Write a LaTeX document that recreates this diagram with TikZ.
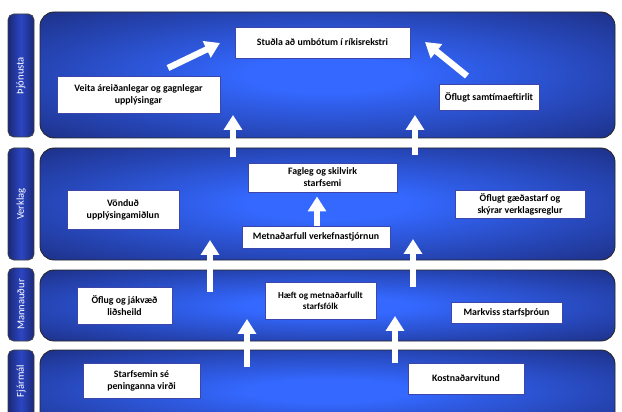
\documentclass[tikz,border=0pt]{standalone}
\usepackage{fontspec}
\setmainfont{Carlito}
\usetikzlibrary{arrows.meta,shadings}

\definecolor{navydark}{RGB}{26,40,118}
\definecolor{glowblue}{RGB}{52,104,255}
\definecolor{barmid}{RGB}{44,70,195}
\definecolor{boxline}{RGB}{60,70,170}

\pgfdeclareradialshading{panelglow}{\pgfpoint{0bp}{0bp}}{color(0bp)=(glowblue); color(7bp)=(glowblue); color(40bp)=(navydark); color(50bp)=(navydark)}

\begin{document}
\begin{tikzpicture}[
    x=0.025cm, y=-0.025cm,
    panel/.style={draw=black!85, line width=0.6pt, rounded corners=10pt, shading=panelglow},
    sidebar/.style={draw=black!75, line width=0.5pt, rounded corners=4pt, left color=navydark, right color=navydark, middle color=barmid},
    sidelabel/.style={text=white, font=\fontsize{7.5}{8}\selectfont, rotate=90},
    goal/.style={rectangle, draw=boxline, line width=0.4pt, fill=white, align=center, inner sep=1pt, font=\fontsize{7}{8.5}\selectfont\bfseries},
    uparrow/.style={-{Triangle[width=12.5pt,length=10.5pt]}, line width=4.5pt, white}
]

\useasboundingbox (0,0) rectangle (622,412);
\clip (0,0) rectangle (622,412);

% Layer bands
\shade[panel] (40,12) rectangle (615,138);
\shade[panel] (40,148) rectangle (615,260);
\shade[panel] (40,270) rectangle (615,341);
\shade[panel] (40,350) rectangle (615,432);

% Side labels
\shade[sidebar] (8,14) rectangle (34,137);
\shade[sidebar] (8,148) rectangle (34,260);
\shade[sidebar] (8,268) rectangle (34,341);
\shade[sidebar] (8,350) rectangle (34,432);
\node[sidelabel] (lblthj) at (21,75.5) {Þjónusta};
\node[sidelabel] (lblverk) at (21,204) {Verklag};
\node[sidelabel] (lblmann) at (21,304.5) {Mannauður};
\node[sidelabel] (lblfjar) at (21,381) {Fjármál};

% Þjónusta
\node[goal, minimum width=4.375cm, minimum height=0.775cm] (studla) at (322.5,42.5) {Stuðla að umbótum í ríkisrekstri};
\node[goal, minimum width=4.075cm, minimum height=0.925cm] (veita) at (138.5,94.5) {Veita áreiðanlegar og gagnlegar\\upplýsingar};
\node[goal, minimum width=2.5cm, minimum height=0.65cm] (eftirlit) at (489,97) {Öflugt samtímaeftirlit};

% Verklag
\node[goal, minimum width=3.725cm, minimum height=0.725cm] (fagleg) at (322.5,177.5) {Fagleg og skilvirk\\starfsemi};
\node[goal, minimum width=3.7cm, minimum height=0.55cm] (verkefni) at (316,237) {Metnaðarfull verkefnastjórnun};
\node[goal, minimum width=2.8cm, minimum height=0.975cm] (midlun) at (123,209.5) {Vönduð\\upplýsingamiðlun};
\node[goal, minimum width=3.25cm, minimum height=0.7cm] (gaedi) at (520,204) {Öflugt gæðastarf og\\skýrar verklagsreglur};

% Mannauður
\node[goal, minimum width=2.375cm, minimum height=0.925cm] (lidsheild) at (124.5,305.5) {Öflug og jákvæð\\liðsheild};
\node[goal, minimum width=2.775cm, minimum height=0.925cm, font=\fontsize{6.5}{8}\selectfont\bfseries] (starfsfolk) at (320.5,300.5) {Hæft og metnaðarfullt\\starfsfólk};
\node[goal, minimum width=2.775cm, minimum height=0.525cm] (throun) at (506.5,312.5) {Markviss starfsþróun};

% Fjármál
\node[goal, minimum width=2.925cm, minimum height=0.875cm] (virdi) at (141.5,380.5) {Starfsemin sé\\peninganna virði};
\node[goal, minimum width=2.9cm, minimum height=0.775cm] (kostn) at (466,378.5) {Kostnaðarvitund};

% Arrow ends
\coordinate (dl0) at (168,68);
\coordinate (dl1) at (220,43);
\coordinate (dr0) at (467,76);
\coordinate (dr1) at (425,42);
\coordinate (a0) at (233,157);
\coordinate (a1) at (233,115);
\coordinate (b0) at (415,155);
\coordinate (b1) at (415,115);
\coordinate (c0) at (210,292);
\coordinate (c1) at (210,240);
\coordinate (d0) at (413,287);
\coordinate (d1) at (413,239);
\coordinate (e0) at (247,367);
\coordinate (e1) at (247,319);
\coordinate (f0) at (395,363);
\coordinate (f1) at (395,316);

% Arrows
\draw[uparrow] (dl0) -- (dl1);
\draw[uparrow] (dr0) -- (dr1);
\draw[uparrow] (a0) -- (a1);
\draw[uparrow] (b0) -- (b1);
\draw[uparrow] (c0) -- (c1);
\draw[uparrow] (d0) -- (d1);
\draw[uparrow] (e0) -- (e1);
\draw[uparrow] (f0) -- (f1);
\draw[uparrow] (verkefni.north -| 317,0) -- ([yshift=-3pt]fagleg.south -| 317,0);

\end{tikzpicture}
\end{document}
